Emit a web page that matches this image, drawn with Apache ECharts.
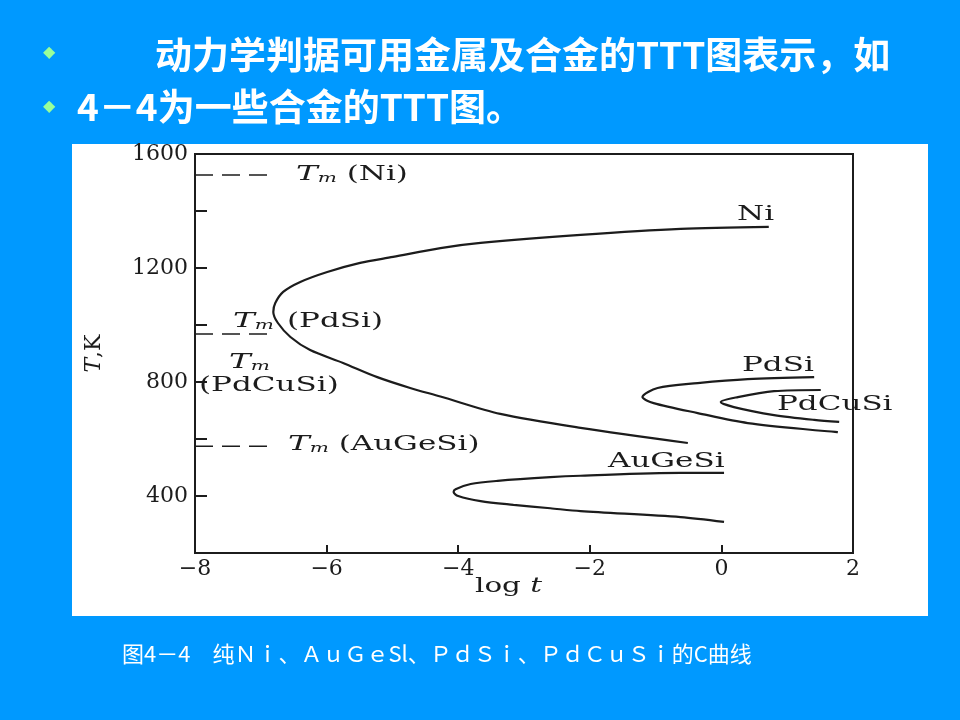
<!DOCTYPE html>
<html><head><meta charset="utf-8">
<script src="https://cdn.jsdelivr.net/npm/echarts/dist/echarts.min.js"></script>
<style>html,body{margin:0;padding:0;background:#0099FF}#c{width:960px;height:720px}</style>
</head><body><div id="c"></div>
<script>
// ---- data (log t, T in K) ----
const xTicks = [-8, -6, -4, -2, 0, 2];
const yLabelTicks = [400, 800, 1200, 1600];
const niCurve = [[0.72,1344],[-0.62,1337],[-2.14,1316],[-3.66,1288],[-4.27,1270],[-4.99,1239],[-5.49,1218],[-5.99,1186],[-6.40,1151],[-6.66,1116],[-6.78,1077],[-6.81,1046],[-6.74,1007],[-6.55,958],[-6.25,912],[-5.75,867],[-5.23,817],[-4.73,779],[-4.27,749],[-3.36,688],[-2.14,639],[-0.51,586]];
const pdSiCurve = [[1.41,817],[0.40,810],[-0.36,796],[-0.97,779],[-1.20,747],[-1.03,726],[-0.36,691],[0.40,656],[1.77,624]];
const pdCuSiCurve = [[1.51,772],[0.80,768],[0.25,747],[-0.01,730],[0.19,712],[0.80,684],[1.41,667],[1.79,660]];
const auGeSiCurve = [[0.04,481],[-0.62,481],[-2.14,471],[-2.60,466],[-3.40,453],[-3.81,442],[-4.04,424],[-4.07,414],[-4.00,400],[-3.66,382],[-3.16,369],[-2.60,357],[-2.14,347],[-0.62,326],[0.04,309]];
const tmNi = 1526, tmPdSi = 968, tmAuGeSi = 575;
const tmStart = -8, tmEnd = -6.78;

const title1 = '动力学判据可用金属及合金的TTT图表示，如';
const title2 = '4－4为一些合金的TTT图。';
const caption = '图4－4　纯Ｎｉ、ＡｕＧｅSl、ＰｄＳｉ、ＰｄＣｕＳｉ的C曲线';

const ink = '#1c1c1c';
const serif = 'DejaVu Serif';
const cjk = 'Noto Sans CJK SC';

function curve(name, data, smooth) {
  return {name, type:'line', data, symbol:'none', smooth: smooth, z:3,
    lineStyle:{color:ink, width:2.2}};
}
function tmLine(name, v) {
  return {name, type:'line', data:[[tmStart,v],[tmEnd,v]], symbol:'none', z:3,
    lineStyle:{color:ink, width:1.5, type:[18,9]}};
}
const scanRich = {
  t:{fontFamily:serif, fontStyle:'italic', fontSize:21, fill:ink},
  m:{fontFamily:serif, fontStyle:'italic', fontSize:13, fill:ink, padding:[7,0,0,0]},
  p:{fontFamily:serif, fontSize:20, fill:ink}
};
function scanText(x, y, text, sx) {
  return {type:'text', x, y, z:20, scaleX: sx || 1.55,
    style:{text, rich:scanRich, fontFamily:serif, fontSize:20, fill:ink,
      align:'left', verticalAlign:'middle', textAlign:'left', textVerticalAlign:'middle'}};
}
function plainText(x, y, text, size, weight, color, family) {
  return {type:'text', x, y, z:20,
    style:{text, fontFamily:family||cjk, fontSize:size, fontWeight:weight||'normal', fill:color||'#fff',
      align:'left', verticalAlign:'middle', textAlign:'left', textVerticalAlign:'middle'}};
}

const chart = echarts.init(document.getElementById('c'));
chart.setOption({
  animation:false,
  backgroundColor:'#0099FF',
  grid:{left:195, right:107, top:154, bottom:167, show:true, borderColor:ink, borderWidth:2, backgroundColor:'transparent'},
  xAxis:{type:'value', min:xTicks[0], max:xTicks[xTicks.length-1], interval:2,
    axisLine:{show:true, onZero:false, lineStyle:{color:ink, width:2}},
    axisTick:{show:true, inside:true, length:8, lineStyle:{color:ink, width:2}},
    splitLine:{show:false},
    axisLabel:{margin:5, color:ink, fontFamily:serif, fontSize:22,
      formatter:v => v < 0 ? '\u2212' + Math.abs(v) : String(v)}},
  yAxis:{type:'value', min:200, max:1600, interval:200,
    name:'{it|T},K', nameLocation:'middle', nameGap:90, nameRotate:90,
    nameTextStyle:{fontFamily:serif, fontSize:22, color:ink, rich:{it:{fontFamily:serif, fontStyle:'italic', fontSize:22, color:ink}}},
    axisLine:{show:true, onZero:false, lineStyle:{color:ink, width:2}},
    axisTick:{show:true, inside:true, length:12, lineStyle:{color:ink, width:2}},
    splitLine:{show:false},
    axisLabel:{margin:7, color:ink, fontFamily:serif, fontSize:22,
      formatter:v => yLabelTicks.indexOf(v) >= 0 ? String(v) : ''}},
  graphic:[
    {type:'rect', z:-10, shape:{x:72, y:144, width:856, height:472}, style:{fill:'#ffffff'}},
    plainText(43, 53, '◆', 16, 'normal', '#99FF99', 'DejaVu Sans'),
    plainText(43, 107, '◆', 16, 'normal', '#99FF99', 'DejaVu Sans'),
    plainText(155, 55, title1, 37, 'bold'),
    plainText(77, 107, title2, 37, 'bold'),
    plainText(122, 654, caption, 22, 'normal'),
    scanText(296, 175, '{t|T}{m|m}{p| (Ni)}'),
    scanText(233, 322, '{t|T}{m|m}'),
    scanText(287, 322, '{p|(PdSi)}'),
    scanText(229, 363, '{t|T}{m|m}'),
    scanText(199, 386, '{p|(PdCuSi)}'),
    scanText(288, 445, '{t|T}{m|m}{p| (AuGeSi)}'),
    scanText(737, 215, '{p|Ni}'),
    scanText(742, 366, '{p|PdSi}'),
    scanText(777, 405, '{p|PdCuSi}'),
    scanText(608, 462, '{p|AuGeSi}'),
    {type:'text', x:475, y:587, z:20, scaleX:1.4,
      style:{text:'{p|log }{t|t}', rich:{p:{fontFamily:serif, fontSize:21, fill:ink}, t:{fontFamily:serif, fontStyle:'italic', fontSize:21, fill:ink}},
        align:'left', verticalAlign:'middle', textAlign:'left', textVerticalAlign:'middle'}}
  ],
  series:[
    curve('Ni', niCurve, 0.3),
    curve('PdSi', pdSiCurve, 0.3),
    curve('PdCuSi', pdCuSiCurve, 0.3),
    curve('AuGeSi', auGeSiCurve, 0.3),
    tmLine('Tm(Ni)', tmNi),
    tmLine('Tm(PdSi)', tmPdSi),
    tmLine('Tm(AuGeSi)', tmAuGeSi)
  ]
});
</script></body></html>
